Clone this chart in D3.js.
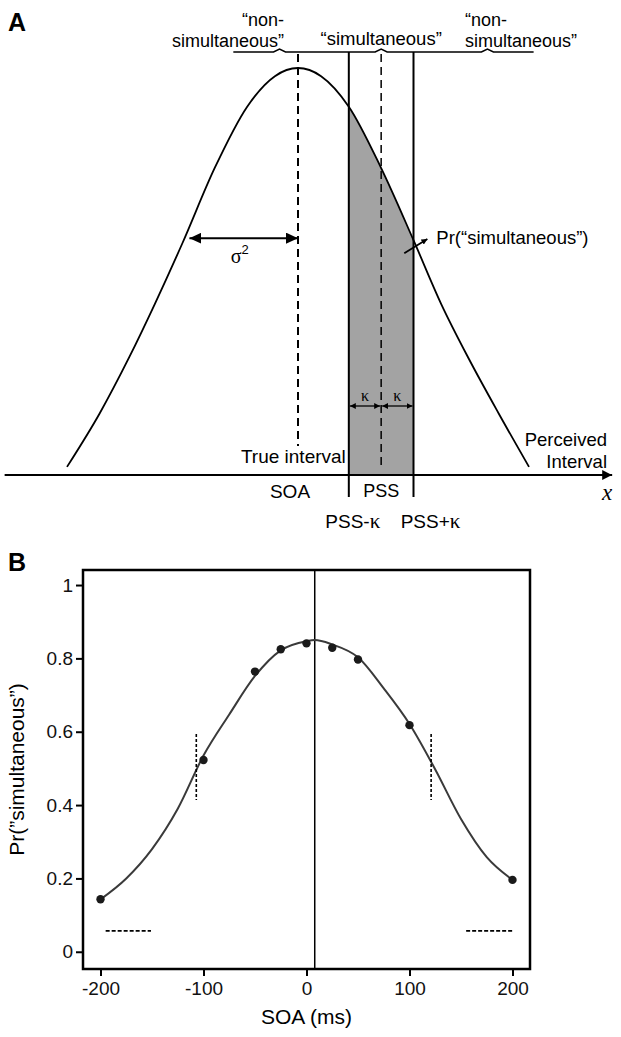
<!DOCTYPE html>
<html>
<head>
<meta charset="utf-8">
<script src="https://cdn.jsdelivr.net/npm/d3@7"></script>
<style>
  body { margin: 0; background: #fff; }
  svg { display: block; font-family: "Liberation Sans", Arial, sans-serif; }
</style>
</head>
<body>
<div id="chart"></div>
<script>
// ---- Panel A: perceived interval distribution (arbitrary units) ----
const densityX = [-100, -86, -73, -62, -50, -36, -22, -10, 0, 10, 22, 36, 50, 62, 74, 87, 100];
const densityY = [0.02, 0.15, 0.29, 0.42, 0.57, 0.755, 0.905, 0.98, 1, 0.98, 0.905, 0.754, 0.577, 0.42, 0.285, 0.15, 0.02];
const trueInterval = 0;
const pss = 36;
const kappa = 14;
const sigmaSpan = [-47, 0];
const sigmaLevel = 0.582;
const braceEnds = [-28, 102];
const braceNubs = [-8, 36, 82];
const axisSpanA = [-127, 136];
const prArrow = [[46, 0.545], [56, 0.58]];

// ---- Panel B: simultaneity judgements vs SOA ----
const soaTicks = [-200, -100, 0, 100, 200];
const probTicks = [0, 0.2, 0.4, 0.6, 0.8, 1];
const soaObserved = [-200, -100, -50, -25, 0, 25, 50, 100, 200];
const probObserved = [0.143, 0.523, 0.764, 0.825, 0.841, 0.829, 0.797, 0.618, 0.196];
const fitSOA = [-200, -175, -150, -125, -100, -75, -50, -25, 0, 8, 25, 50, 75, 100, 125, 150, 175, 200];
const fitProb = [0.143, 0.2, 0.28, 0.39, 0.535, 0.647, 0.752, 0.822, 0.847, 0.85, 0.838, 0.803, 0.718, 0.621, 0.497, 0.362, 0.258, 0.196];
const pssB = 8;
const boundarySOA = [-107, 121];
const boundarySpan = [0.414, 0.594];
const guessSpans = [[-195, -151], [155, 200]];
const guessLevel = 0.057;

const width = 621, height = 1037;

const svg = d3.select('#chart')
  .append('svg')
  .attr('width', width)
  .attr('height', height);

const defs = svg.append('defs');

function addArrow(id, w, h) {
  defs.append('marker')
    .attr('id', id)
    .attr('viewBox', `0 0 ${w} ${h}`)
    .attr('refX', w)
    .attr('refY', h / 2)
    .attr('markerUnits', 'userSpaceOnUse')
    .attr('markerWidth', w)
    .attr('markerHeight', h)
    .attr('orient', 'auto-start-reverse')
    .append('path')
    .attr('d', `M0,0L${w},${h / 2}L0,${h}Z`)
    .attr('fill', '#000');
}
addArrow('headBig', 12, 11);
addArrow('headSmall', 6, 6);
addArrow('headAxis', 10, 10);

// ================= Panel A =================
const xA = d3.scaleLinear().domain([-100, 100]).range([67, 529]);
const yA = d3.scaleLinear().domain([0, 1]).range([475, 68]);
const braceY = 52;
const fontA = '18.5px';
const gA = svg.append('g');

const density = densityX.map((x, i) => ({ x, y: densityY[i] }));

// shaded region PSS-k .. PSS+k under the curve
defs.append('clipPath').attr('id', 'bandClip')
  .append('rect')
  .attr('x', xA(pss - kappa))
  .attr('y', 0)
  .attr('width', xA(pss + kappa) - xA(pss - kappa))
  .attr('height', yA(0));

gA.append('path')
  .datum(density)
  .attr('clip-path', 'url(#bandClip)')
  .attr('fill', '#a3a3a3')
  .attr('d', d3.area()
    .x(d => xA(d.x))
    .y0(yA(0))
    .y1(d => yA(d.y))
    .curve(d3.curveMonotoneX));

gA.append('path')
  .datum(density)
  .attr('fill', 'none')
  .attr('stroke', '#000')
  .attr('stroke-width', 1.8)
  .attr('d', d3.line()
    .x(d => xA(d.x))
    .y(d => yA(d.y))
    .curve(d3.curveMonotoneX));

// brace line on top
const bracePts = [[xA(braceEnds[0]), braceY]];
braceNubs.forEach(n => {
  bracePts.push([xA(n) - 6, braceY], [xA(n), braceY - 3], [xA(n) + 6, braceY]);
});
bracePts.push([xA(braceEnds[1]), braceY]);
gA.append('path')
  .attr('d', d3.line()(bracePts))
  .attr('fill', 'none')
  .attr('stroke', '#000')
  .attr('stroke-width', 1.5);

// vertical lines
[pss - kappa, pss + kappa].forEach(v => {
  gA.append('line')
    .attr('x1', xA(v)).attr('x2', xA(v))
    .attr('y1', braceY).attr('y2', 497)
    .attr('stroke', '#000').attr('stroke-width', 2);
});
gA.append('line')
  .attr('x1', xA(pss)).attr('x2', xA(pss))
  .attr('y1', braceY + 2).attr('y2', 470)
  .attr('stroke', '#000').attr('stroke-width', 1.5)
  .attr('stroke-dasharray', '8,5');
gA.append('line')
  .attr('x1', xA(trueInterval)).attr('x2', xA(trueInterval))
  .attr('y1', braceY + 2).attr('y2', 446)
  .attr('stroke', '#000').attr('stroke-width', 2)
  .attr('stroke-dasharray', '8,5');

// axis with arrow
gA.append('line')
  .attr('x1', xA(axisSpanA[0])).attr('x2', xA(axisSpanA[1]))
  .attr('y1', yA(0)).attr('y2', yA(0))
  .attr('stroke', '#000').attr('stroke-width', 2.2)
  .attr('marker-end', 'url(#headAxis)');

// sigma arrow
gA.append('line')
  .attr('x1', xA(sigmaSpan[0])).attr('x2', xA(sigmaSpan[1]))
  .attr('y1', yA(sigmaLevel)).attr('y2', yA(sigmaLevel))
  .attr('stroke', '#000').attr('stroke-width', 2)
  .attr('marker-start', 'url(#headBig)')
  .attr('marker-end', 'url(#headBig)');
const sig = gA.append('text')
  .attr('x', xA((sigmaSpan[0] + sigmaSpan[1]) / 2) - 4)
  .attr('y', yA(sigmaLevel) + 25)
  .attr('text-anchor', 'middle');
sig.append('tspan').style('font-family', '"Liberation Serif", serif').style('font-size', '20px').text('σ');
sig.append('tspan').attr('dy', -9).style('font-size', '13px').text('2');

// kappa arrows
const kY = 406;
[[pss - kappa, pss], [pss, pss + kappa]].forEach(([a, b]) => {
  gA.append('line')
    .attr('x1', xA(a) + 1).attr('x2', xA(b) - 1)
    .attr('y1', kY).attr('y2', kY)
    .attr('stroke', '#000').attr('stroke-width', 1.3)
    .attr('marker-start', 'url(#headSmall)')
    .attr('marker-end', 'url(#headSmall)');
  gA.append('text')
    .attr('x', (xA(a) + xA(b)) / 2)
    .attr('y', kY - 5)
    .attr('text-anchor', 'middle')
    .style('font-family', '"Liberation Serif", serif')
    .style('font-size', '16px')
    .text('κ');
});

// Pr("simultaneous") pointer
gA.append('line')
  .attr('x1', xA(prArrow[0][0])).attr('y1', yA(prArrow[0][1]))
  .attr('x2', xA(prArrow[1][0])).attr('y2', yA(prArrow[1][1]))
  .attr('stroke', '#000').attr('stroke-width', 1.8)
  .attr('marker-end', 'url(#headSmall)');
gA.append('text')
  .attr('x', xA(prArrow[1][0]) + 9)
  .attr('y', yA(prArrow[1][1]) + 5)
  .style('font-size', fontA)
  .text('Pr(\u201Csimultaneous\u201D)');

// top labels (two separate lines each)
function stacked(x, y, lines, anchor, gap, size) {
  lines.forEach((l, i) => {
    gA.append('text')
      .attr('x', x).attr('y', y + i * gap)
      .attr('text-anchor', anchor)
      .style('font-size', size)
      .text(l);
  });
}
stacked(284, 26, ['\u201Cnon-', 'simultaneous\u201D'], 'end', 21, '18px');
stacked(465, 26, ['\u201Cnon-', 'simultaneous\u201D'], 'start', 21, '18px');
gA.append('text')
  .attr('x', xA(pss)).attr('y', 45)
  .attr('text-anchor', 'middle')
  .style('font-size', fontA)
  .text('\u201Csimultaneous\u201D');

gA.append('text')
  .attr('x', xA(pss - kappa) - 3).attr('y', 463)
  .attr('text-anchor', 'end')
  .style('font-size', '19px')
  .text('True interval');
stacked(607, 446, ['Perceived', 'Interval'], 'end', 22, '18.5px');

// axis labels under the line
gA.append('text')
  .attr('x', xA(trueInterval) - 8).attr('y', 498)
  .attr('text-anchor', 'middle')
  .style('font-size', '19px')
  .text('SOA');
gA.append('text')
  .attr('x', xA(pss)).attr('y', 497)
  .attr('text-anchor', 'middle')
  .style('font-size', '18px')
  .text('PSS');
[[pss - kappa, '-'], [pss + kappa, '+']].forEach(([v, s], i) => {
  const t = gA.append('text')
    .attr('x', xA(v) + (i === 0 ? 4 : 17)).attr('y', 528)
    .attr('text-anchor', 'middle')
    .style('font-size', '19px');
  t.append('tspan').text('PSS' + s);
  t.append('tspan').style('font-family', '"Liberation Serif", serif').style('font-size', '21px').text('κ');
});
gA.append('text')
  .attr('x', 607).attr('y', 500)
  .attr('text-anchor', 'middle')
  .style('font-family', '"Liberation Serif", serif')
  .style('font-style', 'italic')
  .style('font-size', '23px')
  .text('x');

svg.append('text')
  .attr('x', 8).attr('y', 31)
  .style('font-weight', 'bold')
  .style('font-size', '25px')
  .text('A');

// ================= Panel B =================
const xB = d3.scaleLinear().domain([-217, 217]).range([83, 530]);
const yB = d3.scaleLinear().domain([-0.047, 1.041]).range([969, 570]);
const gB = svg.append('g');

gB.append('rect')
  .attr('x', xB.range()[0]).attr('y', yB.range()[1])
  .attr('width', xB.range()[1] - xB.range()[0])
  .attr('height', yB.range()[0] - yB.range()[1])
  .attr('fill', 'none')
  .attr('stroke', '#000')
  .attr('stroke-width', 2.5);

const yAxis = gB.append('g')
  .attr('transform', `translate(${xB.range()[0]},0)`)
  .call(d3.axisLeft(yB).tickValues(probTicks).tickSize(7).tickPadding(3).tickFormat(d => String(d)));
const xAxis = gB.append('g')
  .attr('transform', `translate(0,${yB.range()[0]})`)
  .call(d3.axisBottom(xB).tickValues(soaTicks).tickSize(7).tickPadding(6).tickFormat(d => String(d)));
[yAxis, xAxis].forEach(a => {
  a.select('.domain').remove();
  a.selectAll('line').attr('stroke-width', 2);
  a.selectAll('text')
    .style('font-family', '"Liberation Sans", Arial, sans-serif')
    .style('font-size', '19px')
    .attr('fill', '#111');
});

// PSS line
gB.append('line')
  .attr('x1', xB(pssB)).attr('x2', xB(pssB))
  .attr('y1', yB.range()[1]).attr('y2', yB.range()[0])
  .attr('stroke', '#000').attr('stroke-width', 1.5);

// fitted curve
gB.append('path')
  .datum(fitSOA.map((s, i) => ({ s, p: fitProb[i] })))
  .attr('fill', 'none')
  .attr('stroke', '#3a3a3a')
  .attr('stroke-width', 2)
  .attr('d', d3.line()
    .x(d => xB(d.s))
    .y(d => yB(d.p))
    .curve(d3.curveMonotoneX));

// boundary marks
boundarySOA.forEach(s => {
  gB.append('line')
    .attr('x1', xB(s)).attr('x2', xB(s))
    .attr('y1', yB(boundarySpan[1])).attr('y2', yB(boundarySpan[0]))
    .attr('stroke', '#000').attr('stroke-width', 1.6)
    .attr('stroke-dasharray', '3,2');
});
guessSpans.forEach(([a, b]) => {
  gB.append('line')
    .attr('x1', xB(a)).attr('x2', xB(b))
    .attr('y1', yB(guessLevel)).attr('y2', yB(guessLevel))
    .attr('stroke', '#000').attr('stroke-width', 1.6)
    .attr('stroke-dasharray', '4,2');
});

// observed points
gB.selectAll('.dot')
  .data(soaObserved.map((s, i) => ({ s, p: probObserved[i] })))
  .enter()
  .append('circle')
  .attr('class', 'dot')
  .attr('cx', d => xB(d.s))
  .attr('cy', d => yB(d.p))
  .attr('r', 4.2)
  .attr('fill', '#1a1a1a');

// axis titles
gB.append('text')
  .attr('transform', `translate(24,${(yB.range()[0] + yB.range()[1]) / 2}) rotate(-90)`)
  .attr('text-anchor', 'middle')
  .style('font-size', '21px')
  .text('Pr(\u201Dsimultaneous\u201D)');
gB.append('text')
  .attr('x', xB(0)).attr('y', 1024)
  .attr('text-anchor', 'middle')
  .style('font-size', '21px')
  .text('SOA (ms)');

svg.append('text')
  .attr('x', 8).attr('y', 571)
  .style('font-weight', 'bold')
  .style('font-size', '25px')
  .text('B');
</script>
</body>
</html>
